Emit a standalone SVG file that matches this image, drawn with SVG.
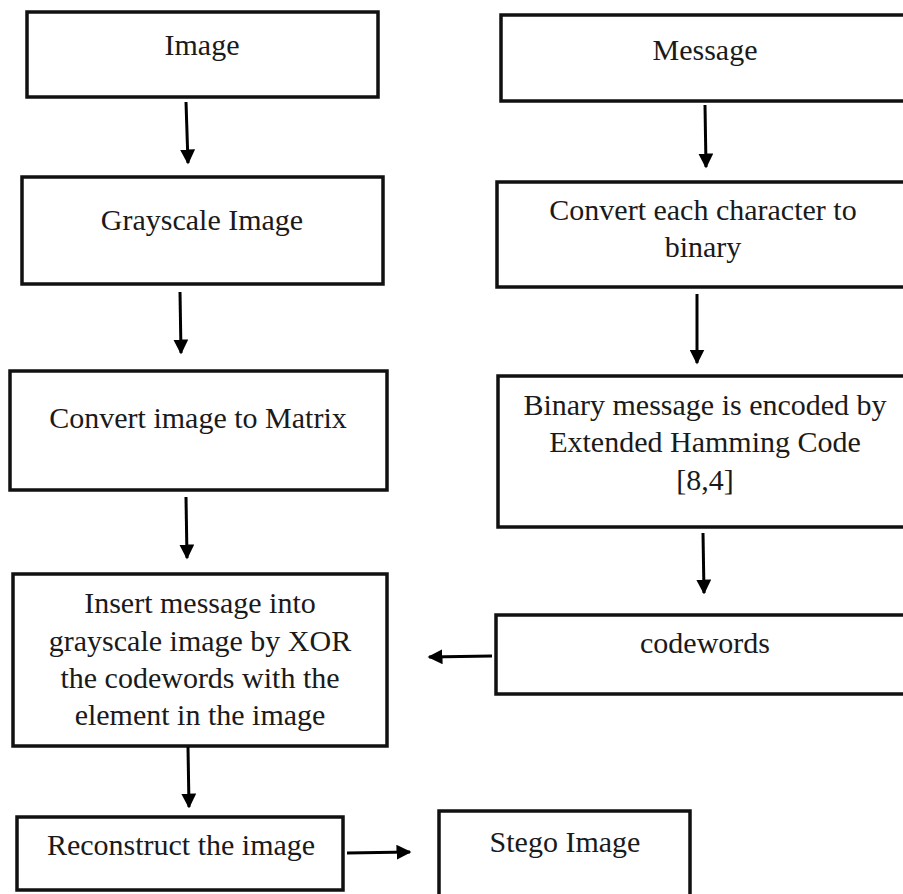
<svg xmlns="http://www.w3.org/2000/svg" width="903" height="894" viewBox="0 0 903 894">
<defs>
<style>
.box{fill:#fff;stroke:#111;stroke-width:3.5}
.t{font-family:"Liberation Serif","Times New Roman",serif;font-size:30px;fill:#1a1a1a;text-anchor:middle}
.c{stroke:#000;stroke-width:3;fill:none}
</style>
<marker id="ah" viewBox="0 0 10 10" refX="9" refY="5" markerWidth="5" markerHeight="5" markerUnits="strokeWidth" orient="auto">
<path d="M0,0 L10,5 L0,10 z" fill="#000"/>
</marker>
</defs>
<rect width="903" height="894" fill="#fff"/>
<g id="n-image"><rect class="box" x="27" y="12" width="351" height="85"/><text class="t" x="202" y="55">Image</text></g>
<g id="n-message"><rect class="box" x="501" y="15" width="410" height="86"/><text class="t" x="705" y="60">Message</text></g>
<g id="n-gray"><rect class="box" x="22" y="177" width="361" height="107"/><text class="t" x="202" y="230">Grayscale Image</text></g>
<g id="n-bin"><rect class="box" x="497" y="182" width="414" height="105"/><text class="t" x="703" y="220">Convert each character to</text><text class="t" x="703" y="257">binary</text></g>
<g id="n-matrix"><rect class="box" x="10" y="371" width="377" height="119"/><text class="t" x="198" y="428">Convert image to Matrix</text></g>
<g id="n-hamming"><rect class="box" x="498" y="376" width="413" height="151"/><text class="t" x="705" y="415">Binary message is encoded by</text><text class="t" x="705" y="452">Extended Hamming Code</text><text class="t" x="705" y="490">[8,4]</text></g>
<g id="n-insert"><rect class="box" x="13" y="574" width="374" height="172"/><text class="t" x="200" y="613">Insert message into</text><text class="t" x="200" y="651">grayscale image by XOR</text><text class="t" x="200" y="688">the codewords with the</text><text class="t" x="200" y="725">element in the image</text></g>
<g id="n-codewords"><rect class="box" x="496" y="615" width="415" height="79"/><text class="t" x="705" y="653">codewords</text></g>
<g id="n-recon"><rect class="box" x="17" y="817" width="326" height="73"/><text class="t" x="181" y="855">Reconstruct the image</text></g>
<g id="n-stego"><rect class="box" x="439" y="811" width="251" height="100"/><text class="t" x="565" y="852">Stego Image</text></g>
<g id="connectors">
<line class="c" x1="186" y1="102" x2="188" y2="163" marker-end="url(#ah)"/>
<line class="c" x1="705" y1="105" x2="706" y2="167" marker-end="url(#ah)"/>
<line class="c" x1="180" y1="292" x2="181" y2="353" marker-end="url(#ah)"/>
<line class="c" x1="697" y1="294" x2="697" y2="363" marker-end="url(#ah)"/>
<line class="c" x1="186" y1="497" x2="187" y2="558" marker-end="url(#ah)"/>
<line class="c" x1="703" y1="533" x2="704" y2="593" marker-end="url(#ah)"/>
<line class="c" x1="492" y1="656" x2="429" y2="657" marker-end="url(#ah)"/>
<line class="c" x1="188" y1="747" x2="189" y2="807" marker-end="url(#ah)"/>
<line class="c" x1="347" y1="853" x2="410" y2="852" marker-end="url(#ah)"/>
</g>
</svg>
